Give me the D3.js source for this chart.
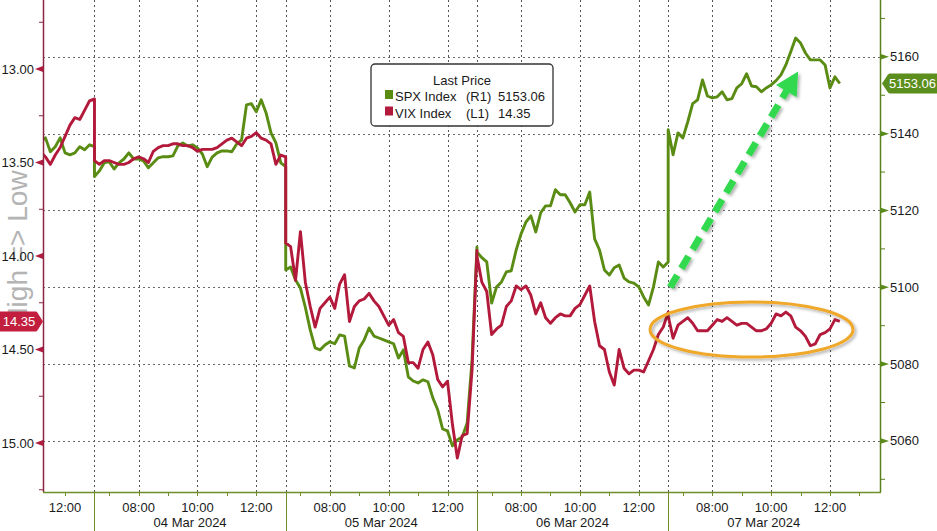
<!DOCTYPE html>
<html><head><meta charset="utf-8">
<script src="https://cdn.jsdelivr.net/npm/d3@7"></script>
<style>
body{margin:0;background:#fff}
svg{display:block}
text{font-family:"Liberation Sans",Arial,sans-serif}
</style>
</head><body>
<svg id="chart" width="937" height="531"></svg>
<script>
// ---------------- DATA ----------------
const sessionDates = ["01 Mar 2024", "04 Mar 2024", "05 Mar 2024", "06 Mar 2024", "07 Mar 2024"];
const seriesStart = ["11:10", "06:30", "06:30", "06:30", "06:30"];
const stepMinutes = 10;

const spxMar01 = [5137.9, 5138.9, 5135.3, 5136.6, 5138.9, 5135.0, 5134.5, 5135.0, 5136.6, 5135.8, 5137.1, 5136.6];
const vixMar01 = [13.44, 13.47, 13.51, 13.46, 13.42, 13.36, 13.30, 13.26, 13.27, 13.22, 13.17, 13.16];

const spxMar04 = [5128.8, 5130.3, 5132.4, 5132.7, 5130.8, 5132.4, 5133.4, 5135.0, 5133.4, 5133.4, 5132.9, 5131.1, 5132.4, 5133.7, 5134.0, 5134.0, 5134.2, 5136.8, 5137.6, 5136.8, 5137.1, 5136.3, 5134.7, 5131.4, 5133.9, 5135.0, 5135.5, 5135.5, 5135.3, 5137.3, 5138.4, 5147.5, 5147.8, 5145.7, 5148.8, 5145.4, 5140.2, 5137.6, 5132.4, 5131.4];
const vixMar04 = [13.49, 13.51, 13.49, 13.49, 13.50, 13.51, 13.51, 13.50, 13.48, 13.47, 13.48, 13.50, 13.44, 13.42, 13.41, 13.41, 13.40, 13.40, 13.41, 13.41, 13.42, 13.44, 13.43, 13.43, 13.43, 13.42, 13.40, 13.38, 13.37, 13.39, 13.41, 13.37, 13.36, 13.34, 13.37, 13.38, 13.40, 13.51, 13.46, 13.47];

const spxMar05 = [5104.5, 5105.3, 5101.9, 5099.8, 5094.8, 5088.9, 5084.2, 5083.7, 5085.0, 5085.8, 5085.3, 5087.6, 5087.3, 5079.5, 5079.0, 5084.2, 5086.3, 5089.4, 5087.3, 5086.8, 5086.3, 5085.8, 5085.3, 5081.6, 5083.7, 5076.7, 5075.6, 5075.1, 5075.9, 5075.4, 5071.2, 5068.1, 5063.1, 5062.6, 5058.7, 5060.3, 5061.0, 5064.7, 5081.1, 5110.5];
const vixMar05 = [13.93, 13.95, 14.13, 13.87, 14.14, 14.27, 14.38, 14.28, 14.25, 14.22, 14.28, 14.15, 14.10, 14.35, 14.27, 14.24, 14.23, 14.20, 14.24, 14.27, 14.32, 14.37, 14.34, 14.41, 14.43, 14.57, 14.57, 14.60, 14.50, 14.46, 14.53, 14.66, 14.70, 14.67, 14.90, 15.08, 14.96, 14.95, 14.61, 13.97];

const spxMar06 = [5109.2, 5107.7, 5106.6, 5095.9, 5100.1, 5101.4, 5104.0, 5104.3, 5109.7, 5113.9, 5117.0, 5118.6, 5114.4, 5119.4, 5121.2, 5121.2, 5125.4, 5124.1, 5124.1, 5122.0, 5119.6, 5121.5, 5121.5, 5124.8, 5112.6, 5109.7, 5104.5, 5103.2, 5105.1, 5105.8, 5102.4, 5101.4, 5101.1, 5100.1, 5097.5, 5095.4, 5100.1, 5106.6, 5105.3, 5106.6];
const vixMar06 = [14.00, 14.14, 14.19, 14.42, 14.39, 14.37, 14.27, 14.24, 14.16, 14.18, 14.16, 14.21, 14.31, 14.25, 14.33, 14.36, 14.33, 14.31, 14.32, 14.32, 14.28, 14.26, 14.21, 14.16, 14.35, 14.48, 14.50, 14.62, 14.69, 14.50, 14.60, 14.63, 14.61, 14.61, 14.62, 14.56, 14.50, 14.42, 14.38, 14.30];

const spxMar07 = [5141.0, 5134.5, 5140.2, 5138.9, 5143.1, 5147.8, 5148.8, 5154.0, 5149.8, 5149.3, 5149.6, 5150.9, 5148.8, 5149.1, 5151.9, 5153.0, 5155.6, 5152.4, 5152.2, 5150.9, 5151.9, 5152.7, 5153.8, 5155.3, 5157.9, 5161.3, 5164.9, 5163.6, 5161.0, 5159.2, 5159.2, 5159.2, 5157.9, 5151.9, 5154.8, 5153.06];
const vixMar07 = [14.32, 14.44, 14.37, 14.35, 14.33, 14.36, 14.40, 14.40, 14.40, 14.37, 14.34, 14.35, 14.33, 14.35, 14.37, 14.36, 14.36, 14.38, 14.40, 14.40, 14.39, 14.36, 14.31, 14.32, 14.30, 14.32, 14.38, 14.40, 14.43, 14.48, 14.47, 14.42, 14.41, 14.39, 14.34, 14.35];

const spxByDay = [spxMar01, spxMar04, spxMar05, spxMar06, spxMar07];
const vixByDay = [vixMar01, vixMar04, vixMar05, vixMar06, vixMar07];

const spxTicks = [5060, 5080, 5100, 5120, 5140, 5160];
const spxMinorTicks = [5050, 5070, 5090, 5110, 5130, 5150, 5170];
const vixTicks = [13.00, 13.50, 14.00, 14.50, 15.00];
const vixMinorTicks = [12.75, 13.25, 13.75, 14.25, 14.75, 15.25];
const timeTickLabels = [["12:00"], ["08:00", "10:00", "12:00"], ["08:00", "10:00", "12:00"], ["08:00", "10:00", "12:00"], ["08:00", "10:00", "12:00"]];
const hourTicks = ["07:00", "08:00", "09:00", "10:00", "11:00", "12:00", "13:00"];

const lastSpx = 5153.06, lastVix = 14.35;
const legendTitle = "Last Price";
const legendRows = [
  {name: "SPX Index", axis: "(R1)", value: "5153.06", key: "spx"},
  {name: "VIX Index", axis: "(L1)", value: "14.35", key: "vix"}
];
const leftAxisTitle = "High => Low";

// annotation anchors in data units
const arrowFrom = {day: 4, time: "06:34", spx: 5100};
const arrowTo = {day: 4, time: "10:55", spx: 5156.2};
const ringCenter = {day: 4, time: "09:20", vix: 14.393};
const ringRadius = {hours: 3.45, vix: 0.147};

// ---------------- SETUP ----------------
const openH = 6.5, sessionLen = 6.5;
function tOf(day, hhmm) {
  const [h, m] = hhmm.split(":").map(Number);
  return day * sessionLen + (h + m / 60 - openH);
}
const W = 937, H = 531;
const L = 43, R = 880, T = 0, B = 492;
const colSpx = "#5a8c14", colVix = "#b3193b";
const colLeftAxis = "#8e2444", colRightAxis = "#5a7f1c", colBottom = "#6d8f27";

const x = d3.scaleLinear().domain([tOf(0, "11:15"), tOf(4, "13:42")]).range([L, R]);
const ySpx = d3.scaleLinear().domain([5046.7, 5174.8]).range([B, T]);
const yVix = d3.scaleLinear().domain([12.631, 15.262]).range([T, B]);

function buildSeries(byDay) {
  const pts = [];
  byDay.forEach((arr, d) => {
    const t0 = tOf(d, seriesStart[d]);
    arr.forEach((v, i) => pts.push({t: t0 + i * stepMinutes / 60, v}));
  });
  return pts;
}
const spxPts = buildSeries(spxByDay);
const vixPts = buildSeries(vixByDay);

const svg = d3.select("#chart");
const defs = svg.append("defs");
defs.append("clipPath").attr("id", "plotclip").append("rect")
  .attr("x", L).attr("y", T).attr("width", R - L).attr("height", B - T);
const f = defs.append("filter").attr("id", "shadow").attr("x", "-20%").attr("y", "-20%").attr("width", "140%").attr("height", "140%");
f.append("feDropShadow").attr("dx", 2).attr("dy", 2).attr("stdDeviation", 1.6)
  .attr("flood-color", "#000").attr("flood-opacity", 0.3);

svg.append("rect").attr("width", W).attr("height", H).attr("fill", "#fff");

// left axis title (behind everything)
svg.append("text").text(leftAxisTitle)
  .attr("transform", `translate(27,${yVix(14.0) - 7}) rotate(-90)`)
  .attr("text-anchor", "middle")
  .attr("font-size", 28).attr("fill", "#b4b4b4");

// ---------------- GRID ----------------
const grid = svg.append("g");
grid.selectAll("line.h").data(spxTicks).join("line")
  .attr("x1", L).attr("x2", R)
  .attr("y1", d => Math.round(ySpx(d)) + 0.5).attr("y2", d => Math.round(ySpx(d)) + 0.5)
  .attr("stroke", "#6a6a6a").attr("stroke-width", 1).attr("stroke-dasharray", "2,3");

const vGridTimes = [];
sessionDates.forEach((d, i) => {
  if (i > 0) vGridTimes.push(tOf(i, "06:30"));
  if (i > 0) timeTickLabels[i].forEach(s => vGridTimes.push(tOf(i, s)));
});
grid.selectAll("line.v").data(vGridTimes).join("line")
  .attr("x1", d => Math.round(x(d)) + 0.5).attr("x2", d => Math.round(x(d)) + 0.5)
  .attr("y1", T).attr("y2", B)
  .attr("stroke", "#555").attr("stroke-width", 1).attr("stroke-dasharray", "2,3");

// ---------------- LINES ----------------
const plot = svg.append("g").attr("clip-path", "url(#plotclip)");
plot.append("path").datum(spxPts)
  .attr("d", d3.line().x(d => x(d.t)).y(d => ySpx(d.v)))
  .attr("fill", "none").attr("stroke", colSpx).attr("stroke-width", 2.9).attr("stroke-linejoin", "round");
plot.append("path").datum(vixPts)
  .attr("d", d3.line().x(d => x(d.t)).y(d => yVix(d.v)))
  .attr("fill", "none").attr("stroke", colVix).attr("stroke-width", 2.9).attr("stroke-linejoin", "round");

// ---------------- ANNOTATIONS ----------------
const ax1 = x(tOf(arrowFrom.day, arrowFrom.time)), ay1 = ySpx(arrowFrom.spx);
const ax2 = x(tOf(arrowTo.day, arrowTo.time)), ay2 = ySpx(arrowTo.spx);
const len = Math.hypot(ax2 - ax1, ay2 - ay1);
const ux = (ax2 - ax1) / len, uy = (ay2 - ay1) / len;
const headLen = 23, headHalf = 12;
const bx = ax2 - ux * headLen, by = ay2 - uy * headLen;
const arrowG = svg.append("g").attr("filter", "url(#shadow)");
arrowG.append("line").attr("x1", ax1).attr("y1", ay1).attr("x2", bx + ux * 2).attr("y2", by + uy * 2)
  .attr("stroke", "#33d94f").attr("stroke-width", 7).attr("stroke-dasharray", "14,8");
arrowG.append("path")
  .attr("d", `M${ax2},${ay2} L${bx - uy * headHalf},${by + ux * headHalf} L${bx + uy * headHalf},${by - ux * headHalf} Z`)
  .attr("fill", "#33d94f");

const cx = x(tOf(ringCenter.day, ringCenter.time)), cy = yVix(ringCenter.vix);
const rx = x(tOf(ringCenter.day, ringCenter.time) + ringRadius.hours) - cx;
const ry = yVix(ringCenter.vix + ringRadius.vix) - cy;
svg.append("ellipse").attr("cx", cx).attr("cy", cy).attr("rx", rx).attr("ry", ry)
  .attr("fill", "none").attr("stroke", "#f0a82a").attr("stroke-width", 3).attr("filter", "url(#shadow)");

// ---------------- AXES ----------------
// left axis (VIX)
const la = svg.append("g");
la.append("line").attr("x1", L + 0.5).attr("x2", L + 0.5).attr("y1", 0).attr("y2", B)
  .attr("stroke", colLeftAxis).attr("stroke-width", 1.5);
la.selectAll("line.mn").data(vixMinorTicks).join("line")
  .attr("x1", L - 4).attr("x2", L).attr("y1", d => yVix(d)).attr("y2", d => yVix(d))
  .attr("stroke", colLeftAxis).attr("stroke-width", 1);
la.selectAll("path.tri").data(vixTicks).join("path")
  .attr("d", d => `M${L - 8},${yVix(d)} L${L},${yVix(d) - 3} L${L},${yVix(d) + 3} Z`)
  .attr("fill", "#b01c3e");
la.selectAll("text").data(vixTicks).join("text")
  .attr("x", L - 9).attr("y", d => yVix(d) + 4.5).attr("text-anchor", "end")
  .attr("font-size", 13).attr("fill", "#1a1a1a").text(d => d3.format(".2f")(d));

// right axis (SPX)
const ra = svg.append("g");
ra.append("line").attr("x1", R + 0.5).attr("x2", R + 0.5).attr("y1", 0).attr("y2", B)
  .attr("stroke", colRightAxis).attr("stroke-width", 1.5);
ra.selectAll("line.mn").data(spxMinorTicks).join("line")
  .attr("x1", R).attr("x2", R + 5).attr("y1", d => ySpx(d)).attr("y2", d => ySpx(d))
  .attr("stroke", colRightAxis).attr("stroke-width", 1);
ra.selectAll("path.tri").data(spxTicks).join("path")
  .attr("d", d => `M${R + 9},${ySpx(d)} L${R},${ySpx(d) - 3} L${R},${ySpx(d) + 3} Z`)
  .attr("fill", "#5a8a1a");
ra.selectAll("text").data(spxTicks).join("text")
  .attr("x", R + 10).attr("y", d => ySpx(d) + 4.5)
  .attr("font-size", 13).attr("fill", "#1a1a1a").text(d => d);

// bottom axis
const ba = svg.append("g");
ba.append("line").attr("x1", L).attr("x2", R + 1).attr("y1", B + 0.5).attr("y2", B + 0.5)
  .attr("stroke", colBottom).attr("stroke-width", 1.5);
const hourT = [];
sessionDates.forEach((d, i) => hourTicks.forEach(h => {
  const t = tOf(i, h);
  if (x(t) > L + 2 && x(t) < R - 2 && h !== "13:00") hourT.push(t);
  if (i === 4 && h === "13:00") hourT.push(t);
}));
ba.selectAll("line.ht").data(hourT).join("line")
  .attr("x1", d => Math.round(x(d)) + 0.5).attr("x2", d => Math.round(x(d)) + 0.5)
  .attr("y1", B).attr("y2", B + 4).attr("stroke", colBottom).attr("stroke-width", 1);
const sepT = sessionDates.slice(1).map((d, i) => tOf(i + 1, "06:30"));
ba.selectAll("line.sep").data(sepT).join("line")
  .attr("x1", d => Math.round(x(d)) + 0.5).attr("x2", d => Math.round(x(d)) + 0.5)
  .attr("y1", B).attr("y2", H).attr("stroke", colBottom).attr("stroke-width", 1);
const tLabels = [];
timeTickLabels.forEach((arr, i) => arr.forEach(s => tLabels.push({t: tOf(i, s), s})));
ba.selectAll("text.tl").data(tLabels).join("text")
  .attr("x", d => x(d.t)).attr("y", 512).attr("text-anchor", "middle")
  .attr("font-size", 13).attr("fill", "#1a1a1a").text(d => d.s);
ba.selectAll("text.dl").data(sessionDates.slice(1)).join("text")
  .attr("x", (d, i) => x(tOf(i + 1, "09:45"))).attr("y", 527).attr("text-anchor", "middle")
  .attr("font-size", 13).attr("fill", "#1a1a1a").text(d => d);

// last value labels
const vy = yVix(lastVix);
svg.append("path")
  .attr("d", `M0,${vy - 10} L36,${vy - 10} Q37,${vy - 10} 38,${vy - 8} L43,${vy} L38,${vy + 8} Q37,${vy + 10} 36,${vy + 10} L0,${vy + 10} Z`)
  .attr("fill", "#c21f3e");
svg.append("text").attr("x", 19).attr("y", vy + 4.5).attr("text-anchor", "middle")
  .attr("font-size", 13).attr("fill", "#fff").text(d3.format(".2f")(lastVix));

const sy = ySpx(lastSpx);
svg.append("path")
  .attr("d", `M882,${sy} L888,${sy - 9} Q889,${sy - 10} 890,${sy - 10} L937,${sy - 10} L937,${sy + 10} L890,${sy + 10} Q889,${sy + 10} 888,${sy + 9} Z`)
  .attr("fill", "#5c8e1e");
svg.append("text").attr("x", 889).attr("y", sy + 4.5)
  .attr("font-size", 13).attr("fill", "#fff").text(d3.format(".2f")(lastSpx));

// ---------------- LEGEND ----------------
const lg = svg.append("g");
lg.append("rect").attr("x", 371).attr("y", 64).attr("width", 182).attr("height", 62).attr("rx", 4)
  .attr("fill", "#fff").attr("stroke", "#333").attr("stroke-width", 1.3);
lg.append("text").attr("x", 462).attr("y", 85).attr("text-anchor", "middle")
  .attr("font-size", 13).attr("fill", "#1a1a1a").text(legendTitle);
legendRows.forEach((r, i) => {
  const yb = 101 + i * 16.5;
  lg.append("rect").attr("x", 385).attr("y", yb - 11).attr("width", 8).attr("height", 9)
    .attr("fill", r.key === "spx" ? colSpx : colVix);
  lg.append("text").attr("x", 395).attr("y", yb).attr("font-size", 13).attr("fill", "#1a1a1a").text(r.name);
  lg.append("text").attr("x", 466).attr("y", yb).attr("font-size", 13).attr("fill", "#1a1a1a").text(r.axis);
  lg.append("text").attr("x", 498).attr("y", yb).attr("font-size", 13).attr("fill", "#1a1a1a").text(r.value);
});
</script>
</body></html>
